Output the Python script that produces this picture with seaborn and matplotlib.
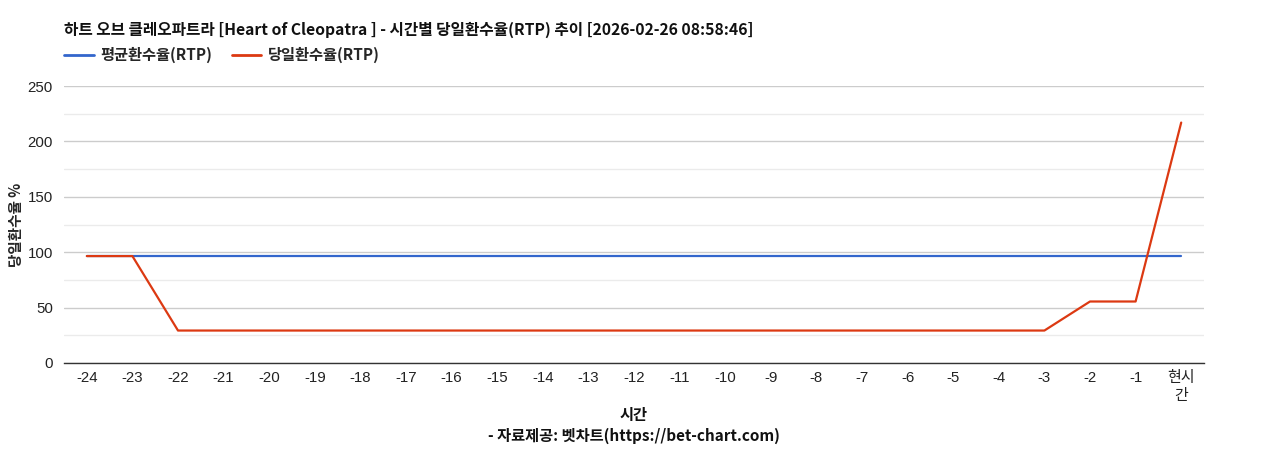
import matplotlib
matplotlib.use('Agg')
import matplotlib.pyplot as plt
from matplotlib.ticker import MultipleLocator
import seaborn as sns
import pandas as pd

# chart data
hours = [str(h) for h in range(-24, 0)] + ['현시\n간']
avg_rtp = [96.3] * 25
today_rtp = [96.5, 96.5] + [29.3] * 20 + [55.5, 55.5, 217.0]

title = '하트 오브 클레오파트라 [Heart of Cleopatra ] - 시간별 당일환수율(RTP) 추이 [2026-02-26 08:58:46]'
avg_label = '평균환수율(RTP)'
today_label = '당일환수율(RTP)'

df = pd.DataFrame({'hour': hours * 2,
                   'rtp': avg_rtp + today_rtp,
                   'series': [avg_label] * 25 + [today_label] * 25})

sns.set_theme(style='white')
plt.rcParams['font.family'] = ['Noto Sans CJK KR', 'DejaVu Sans']
tick_font = ['Liberation Sans', 'Noto Sans CJK KR']

fig = plt.figure(figsize=(12.68, 4.5), dpi=100)
ax = fig.add_axes([64 / 1268, 87 / 450, 1140 / 1268, 277 / 450])

sns.lineplot(data=df, x='hour', y='rtp', hue='series', sort=False,
             palette={avg_label: '#3366cc', today_label: '#dc3912'},
             linewidth=1.6, legend=False, ax=ax)

ax.set_xlim(-0.5, len(hours) - 0.5)
ax.set_ylim(0, 250)
ax.yaxis.set_major_locator(MultipleLocator(50))
ax.yaxis.set_minor_locator(MultipleLocator(25))
ax.grid(axis='y', which='major', color='#cccccc', linewidth=1)
ax.grid(axis='y', which='minor', color='#ebebeb', linewidth=1)
ax.set_axisbelow(True)
for side in ['top', 'right', 'left']:
    ax.spines[side].set_visible(False)
ax.spines['bottom'].set_color('#333333')
ax.spines['bottom'].set_linewidth(1)

ax.tick_params(axis='both', which='both', length=0, labelsize=10.8, colors='#222222')
ax.tick_params(axis='x', pad=6)
ax.tick_params(axis='y', pad=8)
for lbl in ax.get_xticklabels() + ax.get_yticklabels():
    lbl.set_family(tick_font)
for lbl in ax.get_xticklabels():
    lbl.set_linespacing(1.35)

ax.set_xlabel('')
ax.set_ylabel('당일환수율 %', fontsize=10.5, fontweight='bold')
ax.yaxis.set_label_coords((24 - 64) / 1140, 0.5)

fig.text(64 / 1268, 1 - 30 / 450, title, fontsize=11.3, fontweight='bold',
         ha='left', va='center', color='#111111')
fig.text(634 / 1268, 1 - 415 / 450, '시간', fontsize=11, fontweight='bold',
         ha='center', va='center', color='#111111')
fig.text(634 / 1268, 1 - 436 / 450, '- 자료제공: 벳차트(https://bet-chart.com)', fontsize=11,
         fontweight='bold', ha='center', va='center', color='#111111')

handles = [plt.Line2D([], [], color='#3366cc', linewidth=2),
           plt.Line2D([], [], color='#dc3912', linewidth=2)]
fig.legend(handles, [avg_label, today_label], loc='center left',
           bbox_to_anchor=(64 / 1268, 1 - 55 / 450), ncol=2, frameon=False,
           borderpad=0, borderaxespad=0,
           handlelength=1.95, handletextpad=0.4, columnspacing=1.3,
           prop={'weight': 'bold', 'size': 11})

fig.savefig('out.png', dpi=100)
